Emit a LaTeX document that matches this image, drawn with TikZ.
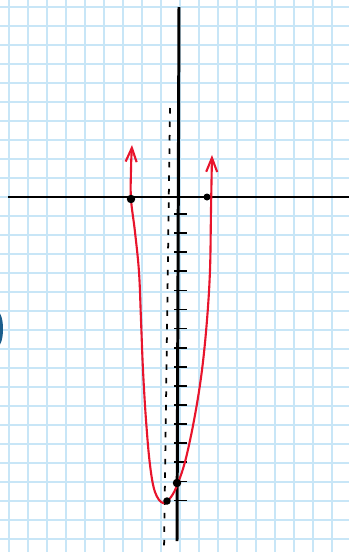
\documentclass[tikz,border=0pt]{standalone}
\usepackage{tikz}
\usetikzlibrary{arrows.meta}
\definecolor{gridblue}{HTML}{C8E6F7}
\definecolor{penred}{HTML}{E8142C}
\definecolor{inkblue}{HTML}{1B5E8C}
\begin{document}
\begin{tikzpicture}[
  x=0.02cm, y=-0.02cm,
  gridline/.style={draw=gridblue, line width=1.2pt},
  axis/.style={draw=black, line width=1.7pt},
  tickmark/.style={draw=black, line width=1pt},
  graph/.style={draw=penred, line width=1.2pt, line cap=round},
  dot/.style={circle, fill=black, inner sep=0pt, minimum size=0.17cm},
  >={Straight Barb[length=0.28cm, width=0.22cm]}
]
\useasboundingbox (0,0) rectangle (349,552);
\fill[white] (0,0) rectangle (349,552);

% paper grid
\foreach \i in {0,...,18}
  \draw[gridline] (8.7+19*\i,0) -- (8.7+19*\i,552);
\foreach \j in {0,...,28}
  \draw[gridline] (0,7.3+19*\j) -- (349,7.3+19*\j);

% ink spot at the margin
\begin{scope}
  \clip (0,0) rectangle (349,552);
  \fill[inkblue] (-2,329) ellipse (5 and 17);
\end{scope}

% axes
\coordinate (xs) at (8,197);
\coordinate (xe) at (349,197);
\coordinate (ys) at (179,7);
\coordinate (ye) at (177,541);
\draw[axis] (xs) -- (xe);
\draw[axis] (ys) -- (ye);

% ticks on the negative y-axis
\foreach \k in {0,...,15}
  \draw[tickmark] (174,214+19.1*\k) -- (187,214+19.1*\k);

% dashed line
\coordinate (ds) at (170,108);
\coordinate (de) at (164,552);
\draw[black, line width=1pt, dash pattern=on 0.11cm off 0.16cm] (ds) -- (de);

% the curve
\draw[graph, <->] plot[smooth, tension=0.6] coordinates {
  (132,145) (131,170) (131,199) (135,232) (139,272) (141,320)
  (143,370) (146,420) (150,465) (155,492) (163,503) (171,497)
  (178,483) (186,458) (195,415) (202,370) (207,320) (210,270)
  (211,210) (212,155)};

% points
\node[dot] (rootl) at (131,199) {};
\node[dot, minimum size=0.14cm] (rootr) at (207,197) {};
\node[dot] (yint) at (177,483) {};
\node[dot, minimum size=0.15cm] (vert) at (167,501) {};
\end{tikzpicture}
\end{document}
